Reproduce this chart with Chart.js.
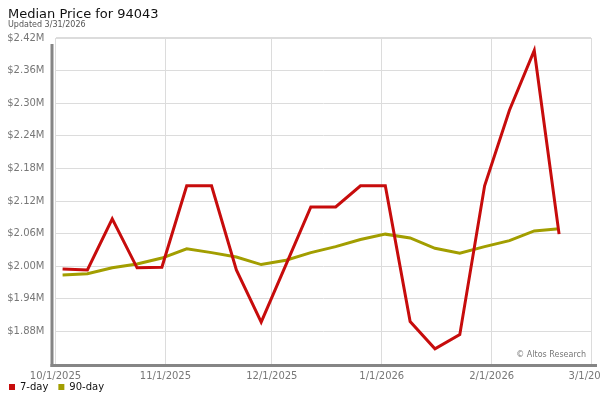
<!DOCTYPE html>
<html>
<head>
<meta charset="utf-8">
<script src="https://cdn.jsdelivr.net/npm/chart.js@4.4.1/dist/chart.umd.min.js"></script>
<style>
  html, body { margin: 0; padding: 0; background: #fff; }
  #wrap { width: 600px; height: 400px; }
</style>
</head>
<body>
<div id="wrap"><canvas id="c" width="600" height="400"></canvas></div>
<script>
// ---- data ----
const titleText = 'Median Price for 94043';
const subtitleText = 'Updated 3/31/2026';
const creditText = '\u00A9 Altos Research';
const seriesLabels = ['7-day', '90-day'];

const dates = [
  '2025-10-03', '2025-10-10', '2025-10-17', '2025-10-24', '2025-10-31',
  '2025-11-07', '2025-11-14', '2025-11-21', '2025-11-28',
  '2025-12-05', '2025-12-12', '2025-12-19', '2025-12-26',
  '2026-01-02', '2026-01-09', '2026-01-16', '2026-01-23', '2026-01-30',
  '2026-02-06', '2026-02-13', '2026-02-20'
];
const sevenDay = [
  1995000, 1993000, 2087000, 1997000, 1998000,
  2148000, 2148000, 1993000, 1897000,
  2003000, 2109000, 2109000, 2148000,
  2148000, 1898000, 1848000, 1874000, 2148000,
  2287000, 2397000, 2059000
];
const ninetyDay = [
  1984000, 1986000, 1997000, 2004000, 2015000,
  2032000, 2025000, 2017000, 2003000,
  2011000, 2025000, 2036000, 2049000,
  2059000, 2052000, 2033000, 2024000, 2036000,
  2047000, 2065000, 2069000
];
const xTickDates = ['2025-10-01', '2025-11-01', '2025-12-01', '2026-01-01', '2026-02-01', '2026-03-01'];
const xTickLabels = ['10/1/2025', '11/1/2025', '12/1/2025', '1/1/2026', '2/1/2026', '3/1/2026'];
const yTicks = [1880000, 1940000, 2000000, 2060000, 2120000, 2180000, 2240000, 2300000, 2360000, 2420000];
const yMin = 1820000;
const yMax = 2420000;

// ---- helpers ----
function dayNum(s) {
  const [y, m, d] = s.split('-').map(Number);
  return Date.UTC(y, m - 1, d) / 86400000;
}
const baseDay = dayNum(xTickDates[0]);
const toX = s => dayNum(s) - baseDay;
const xTickDays = xTickDates.map(toX);
const toPoints = vals => vals.map((v, i) => ({ x: toX(dates[i]), y: v }));

Chart.defaults.font.family = '"DejaVu Sans", Verdana, sans-serif';

const framePlugin = {
  id: 'frame',
  afterLayout(chart) {
    const lg = chart.legend;
    if (lg) { lg.left = lg.left - 9; lg.top = lg.top + 2; }
    const xs = chart.scales.x;
    if (xs) { xs.bottom = xs.top + 24; xs.height = 24; }
  },
  afterDraw(chart) {
    const { ctx, chartArea: a } = chart;
    ctx.save();
    ctx.strokeStyle = '#858585';
    ctx.lineWidth = 3;
    ctx.beginPath();
    ctx.moveTo(a.left - 3.5, a.top + 6);
    ctx.lineTo(a.left - 3.5, a.bottom + 3);
    ctx.stroke();
    ctx.beginPath();
    ctx.moveTo(a.left - 5, a.bottom + 1.5);
    ctx.lineTo(a.right + 6, a.bottom + 1.5);
    ctx.stroke();
    ctx.fillStyle = '#777';
    ctx.font = '8px "DejaVu Sans"';
    ctx.textAlign = 'right';
    ctx.textBaseline = 'middle';
    ctx.fillText(creditText, a.right - 5, a.bottom - 9.5);
    ctx.restore();
  }
};

new Chart(document.getElementById('c').getContext('2d'), {
  type: 'line',
  data: {
    datasets: [
      { label: seriesLabels[0], data: toPoints(sevenDay), borderColor: '#c70c0c', backgroundColor: '#c70c0c',
        borderWidth: 3, pointRadius: 0, tension: 0, fill: false },
      { label: seriesLabels[1], data: toPoints(ninetyDay), borderColor: '#a29e00', backgroundColor: '#a29e00',
        borderWidth: 3, pointRadius: 0, tension: 0, fill: false }
    ]
  },
  options: {
    responsive: false,
    animation: false,
    devicePixelRatio: 1,
    layout: { padding: { left: 8, right: 9, top: 0, bottom: 0 } },
    scales: {
      x: {
        type: 'linear',
        min: xTickDays[0],
        max: xTickDays[xTickDays.length - 1],
        grid: { color: '#dcdcdc', drawTicks: false },
        border: { display: false },
        ticks: {
          autoSkip: false, maxRotation: 0, padding: 6, color: '#777', font: { size: 10 },
          callback: (v, i) => xTickLabels[i]
        },
        afterBuildTicks: s => { s.ticks = xTickDays.map(v => ({ value: v })); },
        afterFit: s => { s.height = 6; s.paddingLeft = 0; s.paddingRight = 0; }
      },
      y: {
        min: yMin,
        max: yMax,
        grid: { color: '#dcdcdc', drawTicks: false,
                lineWidth: c => (c.tick && c.tick.value === yMax) ? 2 : 1 },
        border: { display: false },
        ticks: {
          padding: 11, color: '#777', font: { size: 10 },
          callback: v => '$' + (v / 1e6).toFixed(2) + 'M'
        },
        afterBuildTicks: s => { s.ticks = yTicks.map(v => ({ value: v })); },
        afterFit: s => { s.width = 47.5; s.paddingTop = 0; s.paddingBottom = 0; }
      }
    },
    plugins: {
      title: {
        display: true, text: titleText, align: 'start', color: '#111',
        font: { size: 13, weight: 'normal', lineHeight: 1 },
        padding: { top: 8, bottom: 0 }
      },
      subtitle: {
        display: true, text: subtitleText, align: 'start', color: '#555',
        font: { size: 8, weight: 'normal', lineHeight: 1 },
        padding: { top: 0, bottom: 9 }
      },
      legend: {
        position: 'bottom', align: 'start',
        labels: {
          boxWidth: 6, boxHeight: 6, padding: 10, color: '#111', font: { size: 10 },
          generateLabels: chart => Chart.defaults.plugins.legend.labels.generateLabels(chart)
            .map(it => Object.assign(it, { lineWidth: 0 }))
        }
      },
      tooltip: { enabled: false }
    }
  },
  plugins: [framePlugin]
});
</script>
</body>
</html>
